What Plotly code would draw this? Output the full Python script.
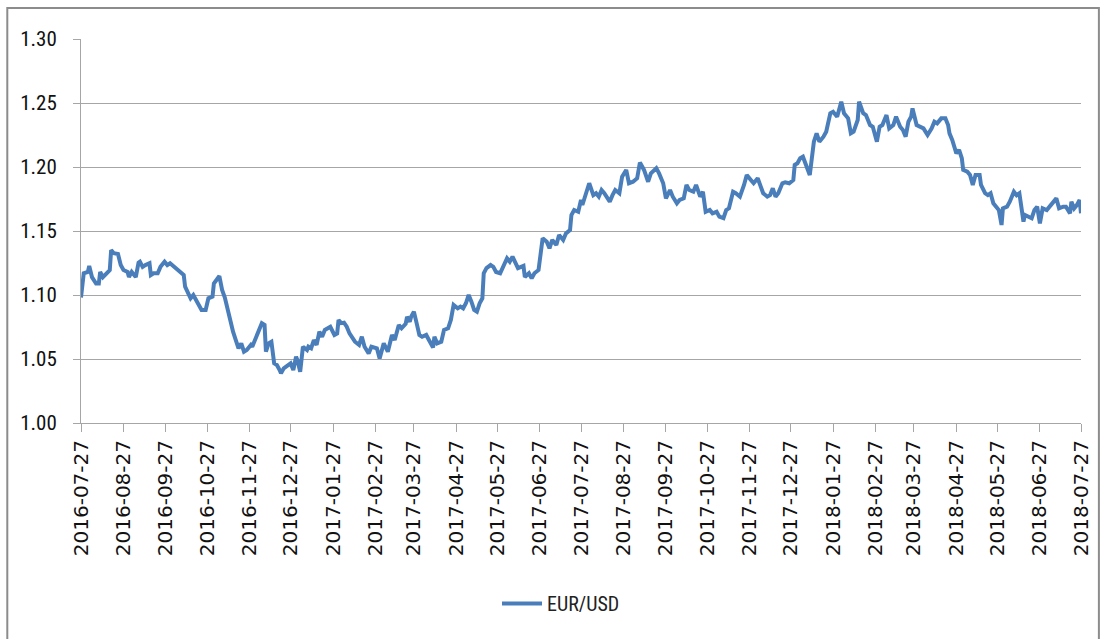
import pandas as pd
import plotly.graph_objects as go

start_date = "2016-07-27"
series_name = "EUR/USD"

# days since 2016-07-27
day_offsets = [
    0, 2, 5, 6, 8, 11, 13, 14, 16, 19,
    21, 22, 24, 27, 29, 31, 34, 35, 37, 40,
    42, 43, 45, 47, 50, 51, 53, 56, 58, 61,
    63, 65, 68, 70, 73, 75, 76, 78, 80, 82,
    84, 86, 88, 91, 93, 96, 97, 101, 103, 105,
    108, 109, 111, 113, 115, 117, 119, 121, 124, 125,
    128, 130, 132, 134, 135, 137, 139, 141, 143, 145,
    146, 148, 151, 153, 155, 157, 158, 160, 162, 165,
    166, 168, 170, 172, 174, 176, 178, 180, 182, 185,
    187, 188, 190, 192, 194, 196, 198, 200, 203, 205,
    207, 210, 212, 216, 218, 221, 224, 227, 229, 232,
    234, 237, 238, 240, 241, 243, 245, 247, 249, 252,
    254, 257, 258, 260, 263, 265, 268, 270, 272, 275,
    277, 279, 281, 283, 285, 287, 289, 291, 293, 294,
    296, 299, 301, 303, 306, 309, 311, 313, 315, 319,
    323, 324, 327, 329, 331, 334, 335, 337, 340, 342,
    344, 347, 349, 352, 354, 357, 358, 360, 363, 365,
    366, 369, 371, 374, 376, 378, 380, 382, 386, 388,
    390, 393, 395, 398, 400, 403, 406, 408, 411, 414,
    416, 420, 422, 425, 427, 430, 432, 435, 437, 440,
    442, 444, 447, 449, 452, 454, 456, 459, 461, 464,
    466, 469, 471, 473, 476, 478, 481, 484, 486, 489,
    491, 494, 496, 498, 501, 503, 505, 507, 509, 512,
    514, 517, 520, 521, 523, 525, 527, 530, 532, 535,
    537, 539, 542, 544, 547, 549, 552, 555, 557, 560,
    562, 564, 567, 568, 571, 573, 576, 578, 581, 583,
    585, 588, 590, 593, 595, 598, 600, 602, 604, 606,
    607, 610, 612, 615, 618, 621, 623, 625, 628, 631,
    633, 634, 636, 638, 639, 641, 643, 644, 647, 649,
    651, 653, 656, 657, 660, 662, 664, 666, 668, 670,
    672, 673, 676, 678, 681, 683, 685, 688, 689, 691,
    694, 696, 698, 700, 702, 705, 707, 710, 712, 714,
    717, 719, 722, 723, 725, 727, 729, 730,
]

eur_usd = [
    1.098, 1.117, 1.118, 1.1227, 1.114, 1.109, 1.109, 1.118, 1.114, 1.118,
    1.1195, 1.135, 1.1326, 1.132, 1.1234, 1.1195, 1.118, 1.114, 1.118, 1.114,
    1.1253, 1.126, 1.122, 1.1234, 1.1248, 1.1156, 1.117, 1.117, 1.122, 1.126,
    1.1234, 1.1248, 1.122, 1.121, 1.118, 1.1156, 1.1065, 1.101, 1.0974, 1.100,
    1.0961, 1.091, 1.0883, 1.0883, 1.0974, 1.0987, 1.109, 1.1148, 1.104, 1.098,
    1.0844, 1.078, 1.0713, 1.0648, 1.0584, 1.0622, 1.0557, 1.057, 1.061, 1.0596,
    1.0674, 1.0713, 1.078, 1.0766, 1.0557, 1.0622, 1.0635, 1.0466, 1.0453, 1.0414,
    1.0388, 1.0427, 1.0453, 1.0466, 1.0414, 1.0518, 1.0492, 1.040, 1.0596, 1.057,
    1.0596, 1.0584, 1.0648, 1.061, 1.0713, 1.0674, 1.0727, 1.074, 1.0752, 1.0688,
    1.070, 1.0805, 1.078, 1.0784, 1.0752, 1.070, 1.0662, 1.0635, 1.061, 1.0674,
    1.0596, 1.0544, 1.0596, 1.0584, 1.0505, 1.0622, 1.0557, 1.0688, 1.0648, 1.0766,
    1.074, 1.0775, 1.083, 1.0791, 1.083, 1.087, 1.078, 1.0688, 1.0674, 1.0688,
    1.0648, 1.059, 1.0674, 1.0622, 1.0635, 1.0727, 1.074, 1.0805, 1.0922, 1.0896,
    1.091, 1.0896, 1.0935, 1.100, 1.0948, 1.0883, 1.087, 1.0935, 1.0974, 1.117,
    1.121, 1.1234, 1.122, 1.118, 1.117, 1.1234, 1.1287, 1.126, 1.130, 1.121,
    1.1227, 1.114, 1.117, 1.113, 1.117, 1.1195, 1.130, 1.1443, 1.1416, 1.1365,
    1.143, 1.139, 1.1469, 1.143, 1.148, 1.1508, 1.1625, 1.1664, 1.165, 1.1742,
    1.1703, 1.182, 1.1873, 1.178, 1.1795, 1.1768, 1.182, 1.1795, 1.1729, 1.178,
    1.182, 1.1795, 1.1924, 1.1977, 1.1873, 1.1885, 1.1912, 1.2035, 1.1977, 1.1885,
    1.195, 1.199, 1.195, 1.1873, 1.1755, 1.182, 1.1768, 1.1716, 1.1742, 1.1755,
    1.186, 1.182, 1.1807, 1.186, 1.1768, 1.1807, 1.165, 1.1664, 1.1638, 1.165,
    1.1612, 1.16, 1.1664, 1.1677, 1.1807, 1.1795, 1.1768, 1.186, 1.1937, 1.1898,
    1.1873, 1.1912, 1.186, 1.1795, 1.1768, 1.178, 1.1834, 1.1768, 1.1795, 1.1873,
    1.188, 1.1873, 1.1898, 1.2016, 1.2029, 1.2068, 1.208, 1.199, 1.1937, 1.2198,
    1.2263, 1.2198, 1.2237, 1.2276, 1.242, 1.2432, 1.2393, 1.251, 1.242, 1.238,
    1.2263, 1.2276, 1.2367, 1.251, 1.242, 1.2406, 1.2328, 1.2315, 1.2198, 1.2315,
    1.2328, 1.2406, 1.2302, 1.2328, 1.2393, 1.2315, 1.2289, 1.2237, 1.2354, 1.2393,
    1.2458, 1.2328, 1.2315, 1.2302, 1.225, 1.2302, 1.2354, 1.2341, 1.238, 1.238,
    1.2328, 1.2263, 1.2211, 1.2146, 1.2107, 1.2133, 1.2068, 1.1977, 1.1963, 1.1937,
    1.186, 1.1937, 1.1937, 1.186, 1.1795, 1.178, 1.1795, 1.1716, 1.169, 1.1664,
    1.1547, 1.1677, 1.169, 1.1729, 1.1807, 1.178, 1.1795, 1.1573, 1.1625, 1.1612,
    1.16, 1.1664, 1.169, 1.156, 1.1677, 1.1664, 1.169, 1.1729, 1.1755, 1.1677,
    1.169, 1.169, 1.1638, 1.1729, 1.1677, 1.1703, 1.1742, 1.1638,
]

tick_labels = [
    "2016-07-27", "2016-08-27", "2016-09-27", "2016-10-27", "2016-11-27",
    "2016-12-27", "2017-01-27", "2017-02-27", "2017-03-27", "2017-04-27",
    "2017-05-27", "2017-06-27", "2017-07-27", "2017-08-27", "2017-09-27",
    "2017-10-27", "2017-11-27", "2017-12-27", "2018-01-27", "2018-02-27",
    "2018-03-27", "2018-04-27", "2018-05-27", "2018-06-27", "2018-07-27",
]

y_ticks = [1.00, 1.05, 1.10, 1.15, 1.20, 1.25, 1.30]

dates = pd.to_datetime(start_date) + pd.to_timedelta(day_offsets, unit="D")

fig = go.Figure()
fig.add_trace(go.Scatter(
    x=dates, y=eur_usd, mode="lines", name=series_name,
    line=dict(color="#4a7ebb", width=4),
))

grid_col = "#a6a6a6"
narrow = "Liberation Sans Narrow, Arial Narrow, Roboto Condensed, sans-serif"
fig.update_layout(
    width=1105, height=639,
    margin=dict(l=81, r=18, t=39, b=216),
    paper_bgcolor="white", plot_bgcolor="white",
    showlegend=True,
    legend=dict(orientation="h", x=0.48, xanchor="center", y=-0.47, yanchor="middle",
                font=dict(family=narrow, size=20, color="#222"),
                itemwidth=40),
    xaxis=dict(
        type="date",
        range=[tick_labels[0], tick_labels[-1]],
        tickvals=tick_labels, ticktext=tick_labels,
        tickangle=-90,
        tickfont=dict(family="DejaVu Sans, sans-serif", size=20, color="#111"),
        showgrid=False, showline=True, linecolor=grid_col, linewidth=1,
        ticks="outside", ticklen=8, tickcolor=grid_col,
        zeroline=False,
    ),
    yaxis=dict(
        range=[1.0, 1.30],
        tickvals=y_ticks, tickformat=".2f",
        tickfont=dict(family=narrow, size=21, color="#111"),
        showgrid=True, gridcolor=grid_col, gridwidth=1,
        showline=True, linecolor=grid_col, linewidth=1,
        ticks="outside", ticklen=7, tickcolor=grid_col,
        ticklabelstandoff=12,
        zeroline=False,
    ),
    shapes=[dict(type="rect", xref="paper", yref="paper",
                 x0=-0.0737, x1=1.0179, y0=-0.62, y1=1.0807,
                 line=dict(color="#8c8c8c", width=2), fillcolor="rgba(0,0,0,0)")],
)

fig.write_html("out.html", config={"displayModeBar": False},
               post_script="document.body.style.margin='0px';")
